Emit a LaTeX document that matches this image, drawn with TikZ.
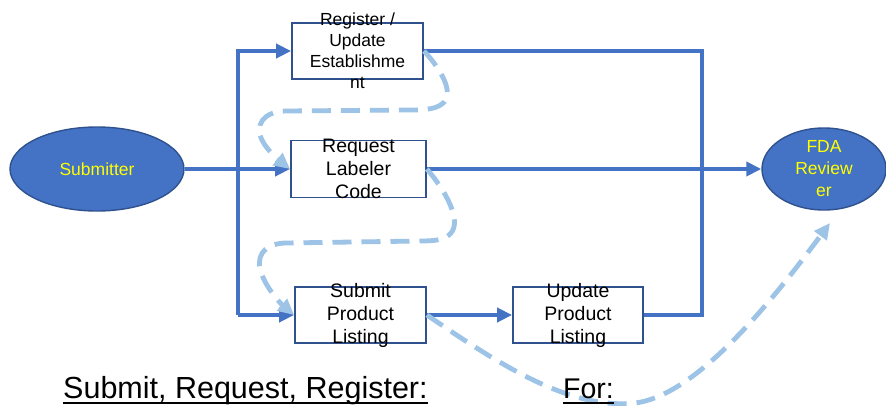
\documentclass[tikz,border=0pt]{standalone}
\usepackage{fontspec}
\setmainfont{Liberation Sans}
\usetikzlibrary{arrows.meta,shapes.geometric}
\definecolor{accentblue}{HTML}{4472C4}
\definecolor{edgeblue}{HTML}{2F528F}
\definecolor{dashblue}{HTML}{9DC3E6}
\definecolor{labelyellow}{HTML}{FFFF00}
\begin{document}
\begin{tikzpicture}[x=1pt,y=-1pt,
  oval/.style={ellipse, draw=edgeblue, fill=accentblue, line width=1.4pt, inner sep=0pt},
  stepbox/.style={rectangle, draw=edgeblue, fill=white, line width=1.8pt, inner sep=0pt},
  txt/.style={font=\fontsize{17.5}{21}\selectfont, align=center, inner sep=0pt},
  bigtxt/.style={font=\fontsize{19.5}{23}\selectfont, align=center, inner sep=0pt},
  biglabel/.style={inner sep=0pt, anchor=base west},
  line/.style={draw=accentblue, line width=4pt},
  flow/.style={line, -{Triangle[length=15pt,width=14pt]}},
  hint/.style={draw=dashblue, line width=4.8pt, dash pattern=on 19pt off 10pt,
               -{Triangle[length=16pt,width=15pt]}}]
\fill[white] (0,0) rectangle (886,405);
\useasboundingbox (0,0) rectangle (886,405);

% actors
\node[oval, minimum width=174pt, minimum height=84pt] (sub) at (97,169) {};
\node[txt, text=labelyellow] (subt) at (sub) {Submitter};
\node[oval, minimum width=124pt, minimum height=82pt] (fda) at (824,169) {};
\node[txt, font=\fontsize{17.5}{22}\selectfont, text=labelyellow] (fdat) at (fda) {FDA\\Review\\er};

% process steps
\node[stepbox, minimum width=131pt, minimum height=56pt] (b1) at (357.5,51) {};
\node[stepbox, minimum width=135pt, minimum height=57pt] (b2) at (358.5,169) {};
\node[stepbox, minimum width=131pt, minimum height=56pt] (b3) at (360.5,315) {};
\node[stepbox, minimum width=130pt, minimum height=56pt] (b4) at (578,315) {};

% routing points
\coordinate (split) at (238,315);
\coordinate (merge) at (702,315);
\coordinate (fdain) at (830,223);

% solid flow
\draw[flow] (sub.east) -- (b2.west);
\draw[flow] (split) |- (b1.west);
\draw[flow] (split) -- (b3.west);
\draw[line] (b1.east) -| (merge) -- (b4.east);
\draw[flow] (b2.east) -- (fda.west);
\draw[flow] (b3.east) -- (b4.west);

% step texts
\node[txt] (t1) at (b1) {Register /\\Update\\Establishme\\nt};
\node[bigtxt] (t2) at (b2) {Request\\Labeler\\Code};
\node[bigtxt] (t3) at (b3) {Submit\\Product\\Listing};
\node[bigtxt] (t4) at (b4) {Update\\Product\\Listing};

% dashed sequence
\draw[hint] (b1.east) .. controls (440,68) and (456,94) .. (442,104)
  .. controls (434,110) and (422,110) .. (405,110) -- (285,111)
  .. controls (262,112) and (255,126) .. (262,140)
  .. controls (268,152) and (280,161) .. (b2.west);
\draw[hint] (b2.east) .. controls (445,190) and (462,220) .. (451,233)
  .. controls (445,240) and (435,241) .. (420,241) -- (285,243)
  .. controls (262,244) and (255,258) .. (262,275)
  .. controls (268,290) and (280,303) .. (b3.west);
\draw[hint] (b3.east) .. controls (500,365) and (570,410) .. (635,403)
  .. controls (700,395) and (780,290) .. (fdain);

% headings
\node[biglabel, font=\fontsize{30.5}{35}\selectfont] (h1) at (63,398) {Submit, Request, Register:};
\node[biglabel, font=\fontsize{28.5}{33}\selectfont] (h2) at (563,398) {For:};
\draw[line width=2pt] ([yshift=-5pt]h1.base west) -- ([yshift=-5pt]h1.base east);
\draw[line width=2pt] ([yshift=-5pt]h2.base west) -- ([yshift=-5pt]h2.base east);
\end{tikzpicture}
\end{document}
